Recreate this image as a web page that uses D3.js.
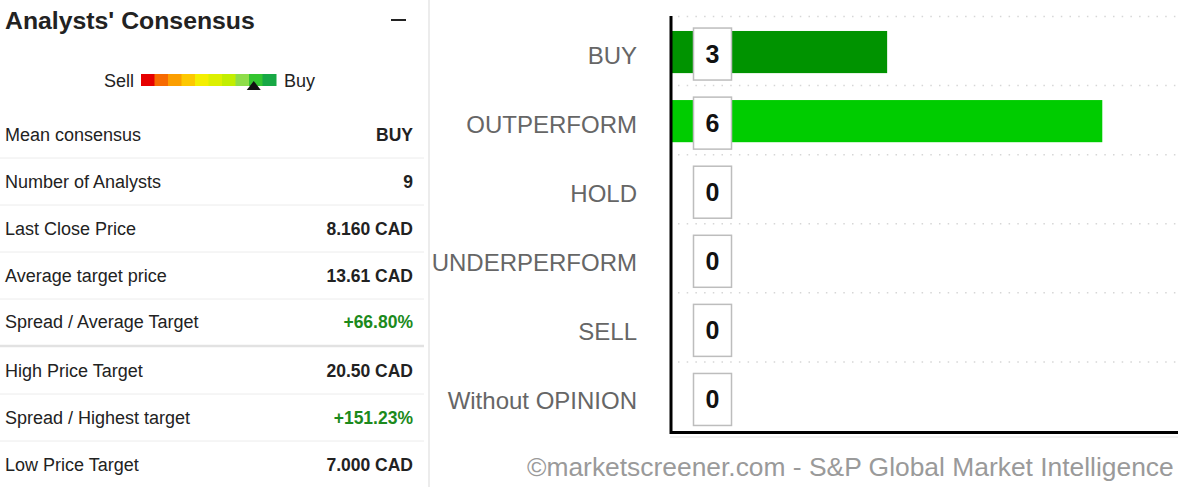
<!DOCTYPE html>
<html>
<head>
<meta charset="utf-8">
<script src="https://cdn.jsdelivr.net/npm/d3@7"></script>
<style>
  body { margin: 0; background: #fff; font-family: "Liberation Sans", Arial, sans-serif; }
</style>
</head>
<body>
<div id="graph_container"></div>
<script>
// consensus summary table
var rowLabels = ["Mean consensus", "Number of Analysts", "Last Close Price", "Average target price",
                 "Spread / Average Target", "High Price Target", "Spread / Highest target", "Low Price Target"];
var rowValues = ["BUY", "9", "8.160 CAD", "13.61 CAD", "+66.80%", "20.50 CAD", "+151.23%", "7.000 CAD"];
var rowGreen  = [false, false, false, false, true, false, true, false];

// sell -> buy scale
var scaleColors = ["#e60000", "#f76a00", "#fb9e00", "#fdc800", "#f4ef00",
                   "#dcf000", "#c2ee00", "#8edd4a", "#34c530", "#17a845"];
var scalePosition = 8; // segment under the marker

// recommendation chart
var categories = ["BUY", "OUTPERFORM", "HOLD", "UNDERPERFORM", "SELL", "Without OPINION"];
var counts     = [3, 6, 0, 0, 0, 0];
var barColors  = ["#009300", "#00cc00", "#88cc00", "#ff9900", "#ff0000", "#999999"];

var svg = d3.select("#graph_container").append("svg")
    .attr("width", 1178)
    .attr("height", 487);

// ---- left panel ----
var left = svg.append("g");

left.append("text")
    .attr("x", 5).attr("y", 29)
    .attr("font-size", 24.8).attr("font-weight", "bold").attr("fill", "#222")
    .text("Analysts' Consensus");

left.append("line")
    .attr("x1", 391).attr("x2", 406).attr("y1", 20).attr("y2", 20)
    .attr("stroke", "#222").attr("stroke-width", 2);

left.append("line")
    .attr("x1", 429).attr("x2", 429).attr("y1", 0).attr("y2", 487)
    .attr("stroke", "#ececec").attr("stroke-width", 2);

var seg = d3.scaleBand().domain(d3.range(scaleColors.length)).range([141, 276]);
left.selectAll("rect.seg")
    .data(scaleColors)
    .enter().append("rect")
    .attr("class", "seg")
    .attr("x", function(d, i) { return seg(i); })
    .attr("y", 74)
    .attr("width", seg.bandwidth() + 0.5)
    .attr("height", 12)
    .attr("fill", function(d) { return d; });

var mx = seg(scalePosition) + seg.bandwidth() / 2 - 2;
left.append("path")
    .attr("d", "M" + mx + ",81 L" + (mx + 7) + ",90 L" + (mx - 7) + ",90 Z")
    .attr("fill", "#111");

left.append("text")
    .attr("x", 134).attr("y", 87).attr("text-anchor", "end")
    .attr("font-size", 18).attr("fill", "#222").text("Sell");
left.append("text")
    .attr("x", 284).attr("y", 87)
    .attr("font-size", 18).attr("fill", "#222").text("Buy");

var rowY = [135, 182, 229, 276, 322, 371, 418, 465];
var sepY = [158, 205, 252, 299, 346, 394, 441];

left.selectAll("line.sep")
    .data(sepY)
    .enter().append("line")
    .attr("class", "sep")
    .attr("x1", 0).attr("x2", 424)
    .attr("y1", function(d) { return d; })
    .attr("y2", function(d) { return d; })
    .attr("stroke", function(d, i) { return i == 4 ? "#e2e2e2" : "#ececec"; })
    .attr("stroke-width", function(d, i) { return i == 4 ? 2.5 : 1; });

left.selectAll("text.lbl")
    .data(rowLabels)
    .enter().append("text")
    .attr("class", "lbl")
    .attr("x", 5)
    .attr("y", function(d, i) { return rowY[i] + 6; })
    .attr("font-size", 18).attr("fill", "#222")
    .text(function(d) { return d; });

left.selectAll("text.val")
    .data(rowValues)
    .enter().append("text")
    .attr("class", "val")
    .attr("x", 413)
    .attr("y", function(d, i) { return rowY[i] + 6; })
    .attr("text-anchor", "end")
    .attr("font-size", 17.5).attr("font-weight", "bold")
    .attr("fill", function(d, i) { return rowGreen[i] ? "#1c8a1c" : "#222"; })
    .text(function(d) { return d; });

// ---- bar chart ----
var x = d3.scaleLinear().domain([0, 7]).range([672, 1174]);
var y = d3.scaleBand().domain(categories).range([17.5, 432]).paddingInner(0.39).paddingOuter(0.195);

var chart = svg.append("g");

// dotted grid at band edges
var gridY = categories.map(function(c) { return y(c) - y.step() * y.paddingInner() / 2 - 1; });
chart.selectAll("line.grid")
    .data(gridY)
    .enter().append("line")
    .attr("class", "grid")
    .attr("x1", 678).attr("x2", 1178)
    .attr("y1", function(d) { return d; })
    .attr("y2", function(d) { return d; })
    .attr("stroke", "#d6d6d6").attr("stroke-width", 1.5)
    .attr("stroke-dasharray", "1.5,7.2");

chart.selectAll("rect.bar")
    .data(categories)
    .enter().append("rect")
    .attr("class", "bar")
    .attr("x", x(0))
    .attr("y", function(d) { return y(d); })
    .attr("width", function(d, i) { return x(counts[i]) - x(0); })
    .attr("height", y.bandwidth())
    .attr("fill", function(d, i) { return barColors[i]; });

var yAxis = chart.append("g")
    .attr("transform", "translate(671,0)")
    .call(d3.axisLeft(y).tickSize(0).tickPadding(34));
yAxis.select(".domain").attr("d", "M0,16V434").attr("stroke", "#000").attr("stroke-width", 3);
yAxis.selectAll("text")
    .attr("font-family", "'Liberation Sans', Arial, sans-serif")
    .attr("font-size", 24).attr("fill", "#666")
    .attr("dy", "0.5em");

var xAxis = chart.append("g")
    .attr("transform", "translate(0,432.5)")
    .call(d3.axisBottom(x).ticks(0).tickSizeOuter(0));
xAxis.select(".domain").attr("d", "M670,0H1178").attr("stroke", "#000").attr("stroke-width", 3);

chart.append("line")
    .attr("x1", 670).attr("x2", 1178).attr("y1", 437).attr("y2", 437)
    .attr("stroke", "#e4e4e4").attr("stroke-width", 1);

// value labels in boxes
var lbl = chart.selectAll("g.lbl")
    .data(categories)
    .enter().append("g")
    .attr("class", "lbl")
    .attr("transform", function(d) { return "translate(" + (x(0) + 40.5) + "," + (y(d) + y.bandwidth() / 2 + 2) + ")"; });

lbl.append("rect")
    .attr("x", -19).attr("y", -26)
    .attr("width", 38).attr("height", 52)
    .attr("fill", "#fff").attr("stroke", "#bdbdbd").attr("stroke-width", 1.5);

lbl.append("text")
    .attr("text-anchor", "middle")
    .attr("y", 9)
    .attr("font-size", 25).attr("font-weight", "bold").attr("fill", "#111")
    .text(function(d, i) { return counts[i]; });

svg.append("text")
    .attr("x", 527).attr("y", 476)
    .attr("font-size", 26.4).attr("fill", "#9a9a9a")
    .text("\u00A9marketscreener.com - S&P Global Market Intelligence");
</script>
</body>
</html>
